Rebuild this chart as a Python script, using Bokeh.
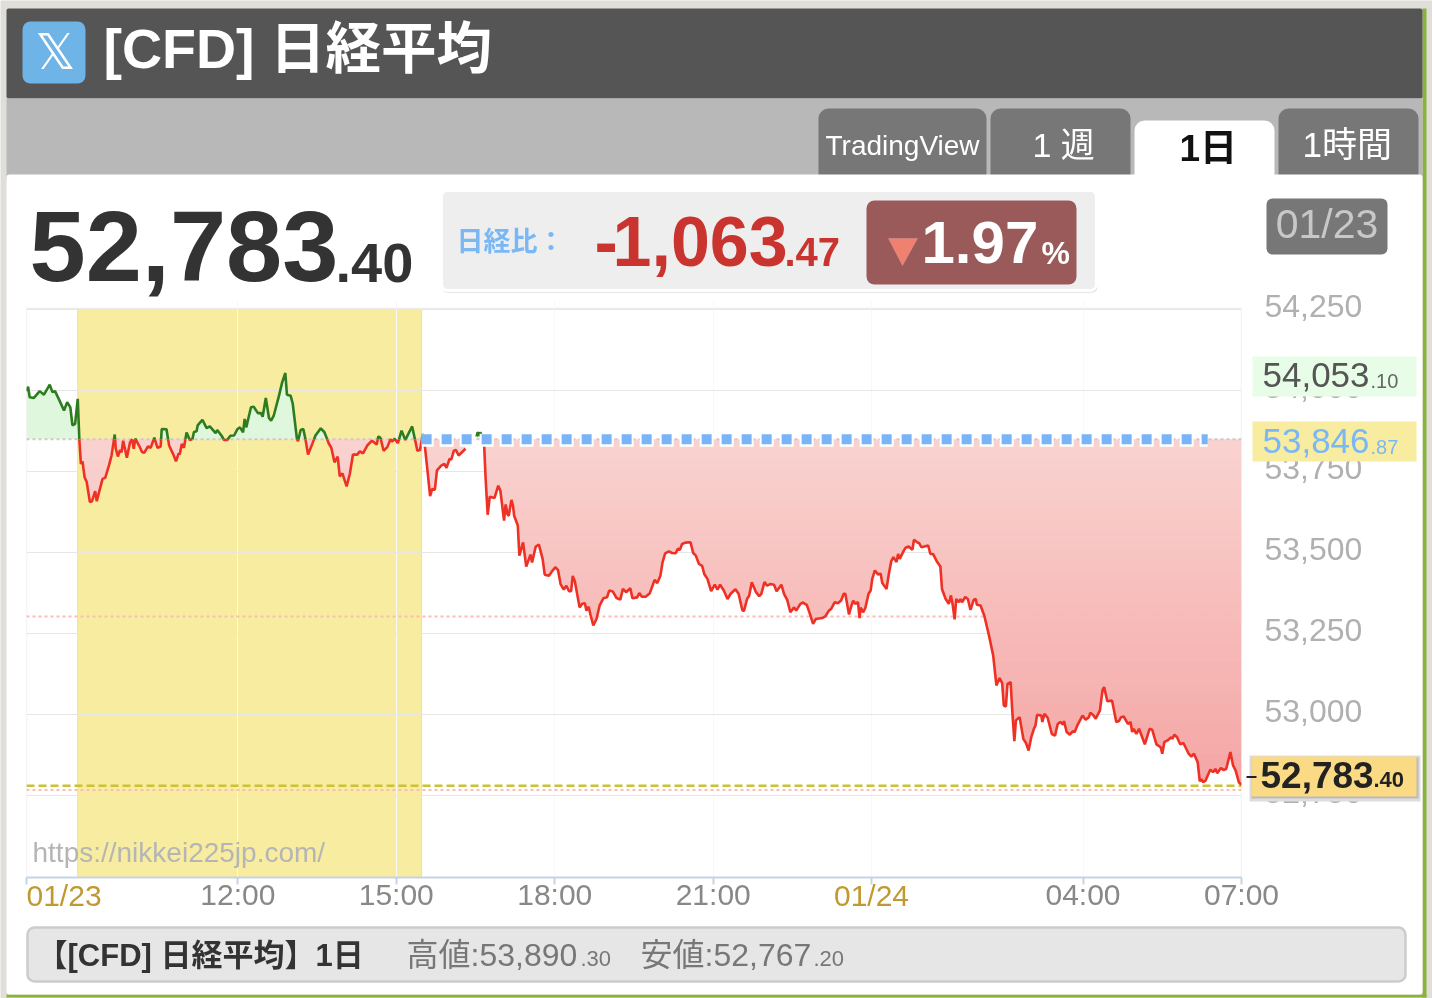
import numpy as np
from bokeh.plotting import figure
from bokeh.embed import file_html
from bokeh.resources import INLINE
from bokeh.models import Label, BoxAnnotation, PolyAnnotation, FixedTicker, NumeralTickFormatter, Range1d

# ---- data ----
x_ticks = [8, 12, 15, 18, 21, 24, 28, 31]
x_tick_labels = ["", "12:00", "15:00", "18:00", "21:00", "", "04:00", "07:00"]
date_labels = ["01/23", "01/24"]
y_ticks = [52750, 53000, 53250, 53500, 53750, 54000, 54250]
baseline_price = 53850
mid_dotted_price = 53303
low_dotted_price = 52767
last_dashed_price = 52780
blue_end_hour = 30.36
session_band = [8.97, 15.48]
y_bottom, y_top = 52496.7, 54254.2

seg1_hours = [8.0,8.03,8.06,8.14,8.25,8.33,8.44,8.49,8.54,8.61,8.71,8.77,8.83,8.87,8.92,8.97,9.0,9.03,9.06,9.1,9.14,9.2,9.24,9.3,9.33,9.39,9.44,9.49,9.56,9.61,9.67,9.69,9.73,9.77,9.8,9.83,9.9,9.96,10.0,10.03,10.06,10.13,10.19,10.23,10.3,10.35,10.42,10.48,10.54,10.56,10.65,10.7,10.78,10.83,10.88,10.9,10.94,10.98,11.03,11.09,11.14,11.17,11.22,11.24,11.33,11.41,11.47,11.58,11.61,11.69,11.74,11.80,11.86,11.93,11.99,12.04,12.10,12.13,12.16,12.25,12.30,12.38,12.44,12.47,12.53,12.59,12.63,12.68,12.78,12.84,12.90,12.93,13.00,13.04,13.12,13.14,13.19,13.24,13.28,13.33,13.41,13.47,13.57,13.64,13.72,13.77,13.83,13.89,13.93,13.98,14.06,14.12,14.18,14.26,14.31,14.37,14.45,14.54,14.63,14.66,14.70,14.76,14.83,14.89,14.92,14.97,15.03,15.10,15.17,15.30,15.40,15.45,15.50,15.53,15.59,15.64,15.68,15.73,15.77,15.85,15.91,15.95,16.01,16.04,16.09,16.13,16.18,16.31]
seg1_price = [53999,54013,53980,53978,53999,53988,54019,53996,53999,53975,53939,53965,53949,53893,53898,53975,53851,53774,53782,53733,53718,53656,53659,53690,53659,53697,53728,53731,53769,53800,53865,53821,53797,53817,53810,53846,53793,53841,53850,53821,53852,53831,53810,53809,53828,53824,53855,53824,53828,53882,53881,53831,53803,53782,53807,53803,53836,53824,53871,53848,53850,53873,53875,53893,53910,53885,53890,53869,53879,53862,53848,53848,53861,53862,53881,53887,53872,53913,53887,53949,53951,53931,53931,53920,53978,53916,53908,53923,53985,54026,54055,53988,53985,53960,53851,53844,53879,53882,53851,53803,53836,53862,53884,53872,53838,53824,53779,53797,53736,53745,53705,53743,53803,53803,53813,53807,53831,53846,53834,53859,53855,53815,53826,53850,53843,53852,53838,53877,53848,53890,53815,53817,53867,53846,53754,53675,53697,53694,53754,53769,53774,53762,53790,53787,53815,53817,53800,53821]

seg2a_hours = [16.52,16.54,16.58,16.59,16.66,16.69,16.73,16.77,16.86,16.93,16.97,17.04,17.07,17.11,17.13,17.18,17.21,17.23,17.30,17.33,17.40,17.46,17.54,17.57,17.64,17.70,17.77,17.81,17.89,17.95,18.01,18.06,18.11,18.17,18.22,18.27,18.31,18.34,18.38,18.47,18.52,18.57,18.60,18.64,18.68,18.73,18.79,18.85,18.92,18.99,19.03,19.10,19.17,19.24,19.29,19.35,19.43,19.47,19.56,19.60,19.65,19.72,19.80,19.89,19.94,20.00,20.04,20.09,20.16,20.22,20.29,20.33,20.37,20.41,20.47,20.57,20.62,20.67,20.73,20.79,20.83,20.89,20.96,21.03,21.08,21.13,21.20,21.27,21.33,21.42,21.48,21.55,21.58,21.64,21.68,21.73,21.81,21.87,21.91,21.97,22.02,22.08,22.15,22.20,22.29,22.34,22.40,22.46,22.53,22.57,22.65,22.70,22.77,22.83,22.89,22.94,23.06,23.12,23.19,23.23,23.30,23.36,23.42,23.47,23.50,23.57,23.61,23.65,23.69,23.74,23.77]
seg2a_price = [53859,53872,53861,53872,53846,53733,53617,53673,53669,53707,53692,53599,53649,53616,53615,53663,53645,53615,53584,53491,53532,53457,53494,53470,53519,53525,53481,53432,53429,53443,53455,53447,53403,53386,53398,53381,53381,53428,53412,53331,53342,53344,53321,53333,53306,53275,53295,53337,53359,53362,53383,53380,53360,53355,53388,53378,53390,53359,53362,53375,53364,53364,53375,53416,53406,53429,53470,53498,53504,53499,53498,53512,53509,53527,53531,53532,53499,53491,53465,53459,53434,53419,53381,53401,53386,53401,53383,53357,53373,53387,53373,53323,53319,53357,53367,53409,53378,53366,53373,53409,53398,53403,53401,53381,53401,53373,53354,53316,53331,53321,53342,53346,53339,53311,53280,53295,53298,53303,53321,53326,53347,53344,53352,53373,53373,53309,53333,53352,53342,53347,53298]
seg2b_hours = [23.79,23.84,23.88,23.94,23.98,24.01,24.06,24.12,24.17,24.20,24.28,24.32,24.37,24.41,24.47,24.50,24.53,24.61,24.64,24.70,24.77,24.80,24.86,24.90,24.94,25.07,25.11,25.16,25.24,25.30,25.33,25.40,25.46,25.50,25.53,25.57,25.60,25.65,25.68,25.71,25.77,25.82,25.87,25.93,25.97,25.99,26.06,26.13,26.22,26.30,26.36,26.42,26.47,26.50,26.54,26.57,26.63,26.66,26.70,26.73,26.80,26.87,26.92,26.97,27.02,27.07,27.10,27.13,27.21,27.23,27.27,27.33,27.41,27.47,27.52,27.57,27.62,27.64,27.69,27.75,27.81,27.84,27.90,27.99,28.05,28.11,28.14,28.20,28.24,28.32,28.37,28.40,28.46,28.55,28.63,28.68,28.72,28.77,28.85,28.90,28.93,28.96,29.01,29.06,29.12,29.17,29.26,29.31,29.39,29.47,29.50,29.54,29.60,29.67,29.69,29.73,29.78,29.84,29.90,30.00,30.05,30.10,30.17,30.21,30.24,30.27,30.32,30.41,30.46,30.51,30.54,30.61,30.66,30.71,30.79,30.84,30.89,30.95,31.00]
seg2b_price = [53330,53316,53330,53373,53383,53419,53445,53433,53435,53406,53388,53430,53474,53486,53471,53496,53481,53507,53515,53519,53509,53540,53532,53529,53517,53522,53496,53496,53471,53457,53388,53357,53342,53368,53342,53294,53357,53347,53357,53347,53363,53357,53323,53354,53357,53339,53337,53306,53244,53182,53090,53113,53097,53028,53025,53095,53100,53013,52918,52982,52992,52925,52912,52889,52930,52956,52966,52999,52997,52977,53002,52990,52940,52935,52971,52977,52969,52980,52946,52938,52949,52945,52969,52997,52984,52992,53006,52997,52987,53013,53076,53085,53041,53043,52977,52980,52992,52994,52971,52977,52946,52956,52940,52956,52930,52908,52956,52953,52908,52899,52879,52915,52920,52930,52925,52938,52930,52908,52912,52879,52870,52879,52853,52794,52801,52791,52796,52830,52822,52832,52819,52835,52829,52832,52884,52843,52827,52791,52783]

W, H = 1432, 998
LAT = "Liberation Sans"
MIX = "Liberation Sans, Noto Sans CJK JP"
CJK = "Noto Sans CJK JP"
LVL = "annotation"

def layer(fill, z):
    f = figure(width=W, height=H, output_backend="svg", toolbar_location=None,
               x_range=Range1d(0, W), y_range=Range1d(H, 0),
               x_axis_location=None, y_axis_location=None, min_border=0,
               background_fill_color=fill, border_fill_color=fill, outline_line_color=None)
    f.grid.visible = False
    f.styles = {"position": "fixed", "left": "0", "top": "0", "z-index": str(z)}
    return f

back = layer("#dfded9", 1)
front = layer(None, 3)

def box(f, l, t, r, b, color, radius=0, line=None, lw=0):
    f.add_layout(BoxAnnotation(left=l, right=r, top=t, bottom=b,
                               left_units="canvas", right_units="canvas", top_units="canvas", bottom_units="canvas",
                               fill_color=color, fill_alpha=1, line_color=line, line_width=lw, line_alpha=1 if line else 0,
                               border_radius=radius, level=LVL))

def T(f, x, y, text, size, color, bold=False, font=LAT, align="left"):
    f.add_layout(Label(x=x, y=y - 0.35*size, x_units="canvas", y_units="canvas", text=text, text_font=font,
                       text_font_size=f"{size}px", text_font_style="bold" if bold else "normal",
                       text_color=color, text_align=align, text_baseline="alphabetic", level=LVL))

# page chrome
box(back, 1422, 8, 1426, 997, "#8ab33e")
box(back, 6, 994, 1426, 997, "#8ab33e")
box(back, 6, 8, 1422, 98, "#555555", 2)
box(back, 6, 98, 1422, 180, "#b8b8b8")
box(back, 818, 108, 986, 190, "#777777", 10)
box(back, 990, 108, 1130, 190, "#777777", 10)
box(back, 1134, 120, 1274, 190, "#ffffff", 10)
box(back, 1278, 108, 1418, 190, "#777777", 10)
box(back, 6, 174, 1422, 994, "#ffffff", 3)
box(back, 22, 21, 85, 83, "#6fb4e6", 8)
box(back, 441, 192, 1097, 292, "#cfcfcf", 6)
box(back, 441, 190, 1096, 290, "#eeeeee", 6, "#ffffff", 3)
box(back, 866, 200, 1076, 284, "#9a5a5a", 8)
box(back, 1266, 198, 1387, 254, "#777777", 6)
box(back, 27, 927, 1405, 981, "#e6e6e6", 7, "#cccccc", 2.5)
T(back, 103, 68, "[CFD] 日経平均", 55.5, "#ffffff", True, MIX)
T(back, 55, 69, "𝕏", 50, "#ffffff", False, "DejaVu Sans", "center")
T(back, 825, 155, "TradingView", 28, "#ffffff")
T(back, 1032, 156, "1 週", 34, "#ffffff", False, MIX)
T(back, 1179, 161, "1日", 37, "#111111", True, MIX)
T(back, 1302, 156, "1時間", 35, "#ffffff", False, MIX)
T(back, 29, 281, "52,783", 101, "#333333", True)
T(back, 335, 282, ".40", 56, "#333333", True)
T(back, 456, 248, "日経比：", 27, "#7ab8f5", True, CJK)
T(back, 594, 265, "-", 70, "#c9352e", True)
T(back, 612, 265, "1,063", 70, "#c9352e", True)
T(back, 784, 265, ".47", 40, "#c9352e", True)
T(back, 921, 263, "1.97", 60, "#ffffff", True)
T(back, 1041, 264, "%", 32, "#ffffff", True)
T(back, 1326.5, 238, "01/23", 41, "#c8c8c8", align="center")
T(back, 36, 966, "【[CFD] 日経平均】1日", 31, "#333333", True, MIX)
T(back, 406, 966, "高値:53,890", 32, "#777777", False, MIX)
T(back, 580, 966, ".30", 22, "#777777")
T(back, 640, 966, "安値:52,767", 32, "#777777", False, MIX)
T(back, 813, 966, ".20", 22, "#777777")
back.add_layout(PolyAnnotation(xs=[888, 917, 902], ys=[238, 238, 265], xs_units="canvas", ys_units="canvas",
                               fill_color="#f08070", fill_alpha=1, line_color="#e9b3a9", line_width=1, level=LVL))

# the chart itself; its frame starts a little above the drawn area so that the top tick label fits
p = figure(width=W, height=H, output_backend="svg", toolbar_location=None,
           x_range=Range1d(8, 31), y_range=Range1d(y_bottom, 54278.9),
           y_axis_location="right",
           min_border_left=26, min_border_right=W-1241, min_border_top=300, min_border_bottom=H-877,
           background_fill_color=None, border_fill_color=None, outline_line_color=None)
p.styles = {"position": "fixed", "left": "0", "top": "0", "z-index": "2"}
p.extra_y_ranges = {"labels": Range1d(52484.4, 54266.5)}

xa = p.xaxis[0]
ya = p.yaxis[0]
ya.y_range_name = "labels"
xa.ticker = FixedTicker(ticks=x_ticks)
xa.major_label_overrides = dict(zip(x_ticks, x_tick_labels))
xa.axis_line_color = "#c6d3e4"
xa.axis_line_width = 2
xa.major_tick_line_color = "#c6d3e4"
xa.major_tick_line_width = 2
xa.major_tick_out = 7
xa.major_tick_in = 0
xa.minor_tick_line_color = None
xa.major_label_text_font = LAT
xa.major_label_text_font_size = "30px"
xa.major_label_text_color = "#888888"
xa.major_label_standoff = -7
ya.ticker = FixedTicker(ticks=y_ticks)
ya.formatter = NumeralTickFormatter(format="0,0")
ya.axis_line_color = None
ya.major_tick_line_color = None
ya.minor_tick_line_color = None
ya.major_label_text_font = LAT
ya.major_label_text_font_size = "32px"
ya.major_label_text_color = "#b0b0b0"
ya.major_label_standoff = 17
p.xgrid.ticker = FixedTicker(ticks=x_ticks)
p.ygrid.ticker = FixedTicker(ticks=y_ticks)
p.xgrid.grid_line_color = "#f8f8f8"
p.ygrid.grid_line_color = "#e6e6e6"

p.quad(left=session_band[0], right=session_band[1], bottom=y_bottom, top=y_top,
       fill_color="#f7ec9f", line_color="#ece29a", line_width=1, level="image")
p.line([8, 8, 31, 31], [y_bottom, y_top, y_top, y_bottom], line_color="#ececec", line_width=1.5, level="underlay")

def with_crossings(xs, ys, base):
    out_x, out_y = [xs[0]], [ys[0]]
    for i in range(1, len(xs)):
        a, b = ys[i-1]-base, ys[i]-base
        if a*b < 0:
            out_x.append(xs[i-1] + (xs[i]-xs[i-1])*(-a)/(b-a))
            out_y.append(base)
        out_x.append(xs[i]); out_y.append(ys[i])
    return np.array(out_x), np.array(out_y, dtype=float)

seg1x, seg1y = with_crossings(seg1_hours, seg1_price, baseline_price)
seg2x, seg2y = with_crossings(seg2a_hours + seg2b_hours, seg2a_price + seg2b_price, baseline_price)

top_col = np.array([249, 211, 208]); bot_col = np.array([244, 166, 165])
n_bands = 34
edges = np.linspace(52780, baseline_price, n_bands + 1)
for sx, sy in ((seg1x, seg1y), (seg2x, seg2y)):
    fx = np.union1d(sx, np.arange(sx[0], sx[-1], 0.01))
    fy = np.interp(fx, sx, sy)
    p.varea(x=fx, y1=np.full(len(fx), baseline_price), y2=np.maximum(fy, baseline_price), fill_color="#dff7dc")
    for k in range(n_bands - 1, -1, -1):
        lo, hi = edges[k], min(edges[k+1] + 3, baseline_price)
        if k == 0:
            lo = 52000
        mask = fy < hi
        if not mask.any():
            continue
        keep = mask | np.r_[mask[1:], False] | np.r_[False, mask[:-1]]
        t = (k + 0.5) / n_bands
        c = bot_col + (top_col - bot_col) * t
        col = "#%02x%02x%02x" % tuple(int(round(v)) for v in c)
        p.varea(x=fx[keep], y1=np.clip(fy[keep], lo, hi), y2=np.full(keep.sum(), hi), fill_color=col)

for v, c, dash, lw in ((mid_dotted_price, "#fdbcb6", "3 3", 2), (low_dotted_price, "#fdbcb6", "3 3", 2),
                       (last_dashed_price, "#c9c236", "8 4", 2.5), (baseline_price, "#d2c6cc", "3 3", 2)):
    p.line([8, 31], [v, v], line_color=c, line_width=lw, line_dash=dash)

for sx, sy in ((seg1x, seg1y), (seg2x, seg2y)):
    p.line(sx, np.where(sy <= baseline_price, sy, np.nan), line_color="#ee3124", line_width=2.6)
    p.line(sx, np.where(sy >= baseline_price, sy, np.nan), line_color="#2d7d20", line_width=2.6)

p.line([session_band[1], blue_end_hour], [baseline_price - 3]*2, line_color="#ffffff", line_width=13,
       line_dash="14 6", line_dash_offset=2)
p.line([session_band[1], blue_end_hour], [baseline_price]*2, line_color="#7ab4f8", line_width=10, line_dash="10 10")

# value tags and texts above the chart
box(front, 1252, 356, 1416, 396, "#e8fde8")
box(front, 1252, 421, 1416, 461, "#f7eca0")
box(front, 1249, 755, 1420, 801, "#dddddd")
box(front, 1251, 757, 1418, 798, "#bbbbbb")
box(front, 1251, 756, 1416, 796, "#fbda85")
box(front, 1246, 775.5, 1256, 777.5, "#222222")
T(front, 1262, 387, "54,053", 35, "#555555")
T(front, 1370, 387, ".10", 20, "#666666")
T(front, 1262, 453, "53,846", 35, "#7ab8f5")
T(front, 1370, 453, ".87", 20, "#7ab8f5")
T(front, 1260, 787, "52,783", 37, "#222222", True)
T(front, 1373, 787, ".40", 22, "#222222", True)
T(front, 32, 862, "https://nikkei225jp.com/", 28, "#b5b5b5")
T(front, 26, 905, date_labels[0], 30, "#c09a30")
T(front, 871, 905, date_labels[1], 30, "#c09a30", align="center")

open("out.html", "w").write(file_html([back, p, front], INLINE))
